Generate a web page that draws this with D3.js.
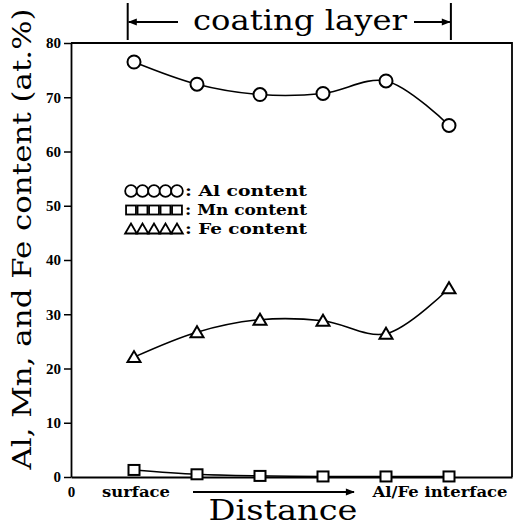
<!DOCTYPE html>
<html>
<head>
<meta charset="utf-8">
<script src="https://cdn.jsdelivr.net/npm/d3@7"></script>
<style>
  body { margin: 0; background: #fff; }
  svg { display: block; }
</style>
</head>
<body>
<svg id="chart" width="529" height="530"></svg>
<script>
// distance positions of the measured points (surface -> Al/Fe interface)
const distance = [1, 2, 3, 4, 5, 6];
const alContent = [76.5, 72.4, 70.5, 70.7, 73.0, 64.8];
const mnContent = [1.3, 0.5, 0.2, 0.1, 0.1, 0.1];
const feContent = [22.1, 26.7, 29.0, 28.8, 26.4, 34.8];
const yTicks = [0, 10, 20, 30, 40, 50, 60, 70, 80];
const legendLabels = ["Al content", "Mn content", "Fe content"];

const svg = d3.select("#chart");
const margin = { top: 43, left: 71, right: 17, bottom: 53 };
const width = 529, height = 530;

const x = d3.scaleLinear().domain([0, 7]).range([margin.left, width - margin.right]);
const y = d3.scaleLinear().domain([0, 80]).range([height - margin.bottom, margin.top]);

const serif = "'DejaVu Serif', 'Liberation Serif', serif";

// marker shapes
function marker(g, type, cx, cy, s = 1) {
  if (type === "circle") {
    g.append("circle").attr("cx", cx).attr("cy", cy).attr("r", 6.5 * s);
  } else if (type === "square") {
    g.append("rect").attr("x", cx - 5.5 * s).attr("y", cy - 5 * s).attr("width", 11 * s).attr("height", 10 * s);
  } else {
    g.append("path").attr("d", `M${cx - 6.5 * s},${cy + 5 * s} L${cx},${cy - 6 * s} L${cx + 6.5 * s},${cy + 5 * s} Z`);
  }
}

// fitted text
function label(tx, ty, str, size, len, opts = {}) {
  const t = svg.append("text")
    .attr("x", tx).attr("y", ty)
    .attr("text-anchor", opts.anchor || "middle")
    .attr("font-family", serif)
    .attr("font-size", size)
    .attr("font-weight", opts.bold ? "bold" : "normal")
    .text(str);
  if (len) t.attr("textLength", len).attr("lengthAdjust", "spacingAndGlyphs");
  if (opts.transform) t.attr("transform", opts.transform);
  return t;
}

// frame
svg.append("path")
  .attr("d", `M${x(0)},${y(80)} L${x(7)},${y(80)} L${x(7)},${y(0)}`)
  .attr("fill", "none").attr("stroke", "#000").attr("stroke-width", 1.8);

// y axis
const yAxis = svg.append("g")
  .attr("transform", `translate(${x(0)},0)`)
  .call(d3.axisLeft(y).tickValues(yTicks).tickSize(7).tickPadding(3).tickSizeOuter(0));
yAxis.select(".domain").attr("stroke-width", 1.8);
yAxis.selectAll("line").attr("stroke-width", 1.5);
yAxis.selectAll("text")
  .attr("font-family", "'Liberation Serif', serif")
  .attr("font-weight", "bold")
  .attr("font-size", 15);

// x axis, only the origin is labelled
const xAxis = svg.append("g")
  .attr("transform", `translate(0,${y(0)})`)
  .call(d3.axisBottom(x).tickValues([0]).tickFormat(d3.format("d")).tickSize(0).tickPadding(9).tickSizeOuter(0));
xAxis.select(".domain").attr("stroke-width", 1.8);
xAxis.selectAll("text")
  .attr("font-family", "'Liberation Serif', serif")
  .attr("font-weight", "bold")
  .attr("font-size", 15);

// series
const series = [
  { values: alContent, type: "circle" },
  { values: mnContent, type: "square" },
  { values: feContent, type: "triangle" }
];

const line = d3.line()
  .x(d => x(d[0]))
  .y(d => y(d[1]))
  .curve(d3.curveCatmullRom.alpha(0.5));

series.forEach(s => {
  const pts = distance.map((d, i) => [d, s.values[i]]);
  svg.append("path")
    .datum(pts)
    .attr("d", line)
    .attr("fill", "none")
    .attr("stroke", "#000")
    .attr("stroke-width", 1.6);
  const g = svg.append("g").attr("fill", "#fff").attr("stroke", "#000").attr("stroke-width", 2);
  pts.forEach(p => marker(g, s.type, x(p[0]), y(p[1])));
});

// legend
const legend = svg.append("g");
series.forEach((s, i) => {
  const cy = 191 + i * 19;
  const g = legend.append("g").attr("fill", "#fff").attr("stroke", "#000").attr("stroke-width", 1.8);
  for (let k = 0; k < 5; k++) marker(g, s.type, 131 + k * 11.5, cy, 0.9);
  label(185, cy + 5, ": " + legendLabels[i], 15, 122, { anchor: "start", bold: true });
});

// arrow helper
svg.append("defs").append("marker")
  .attr("id", "head")
  .attr("viewBox", "0 0 10 10").attr("refX", 9).attr("refY", 5)
  .attr("markerWidth", 7).attr("markerHeight", 5).attr("orient", "auto")
  .append("path").attr("d", "M0,1 L10,5 L0,9 Z").attr("fill", "#000");

function arrow(x1, y1, x2, y2) {
  svg.append("line")
    .attr("x1", x1).attr("y1", y1).attr("x2", x2).attr("y2", y2)
    .attr("stroke", "#000").attr("stroke-width", 1.8)
    .attr("marker-end", "url(#head)");
}

// coating layer bracket
const xl = x(0.9), xr = x(6.03);
svg.append("line").attr("x1", xl).attr("x2", xl).attr("y1", 3).attr("y2", 40).attr("stroke", "#000").attr("stroke-width", 2);
svg.append("line").attr("x1", xr).attr("x2", xr).attr("y1", 3).attr("y2", 40).attr("stroke", "#000").attr("stroke-width", 2);
arrow(178, 22, xl + 1, 22);
arrow(414, 22, xr - 1, 22);
label(300, 30, "coating layer", 27, 214);

// x labels
label(136, 497, "surface", 14, 68, { bold: true });
arrow(193, 492, 354, 492);
label(440, 497, "Al/Fe interface", 14, 135, { bold: true });
label(283, 520, "Distance", 27, 149);

// y title
label(0, 0, "Al, Mn, and Fe content (at.%)", 26, 461, { transform: "translate(31,239) rotate(-90)" });
</script>
</body>
</html>
